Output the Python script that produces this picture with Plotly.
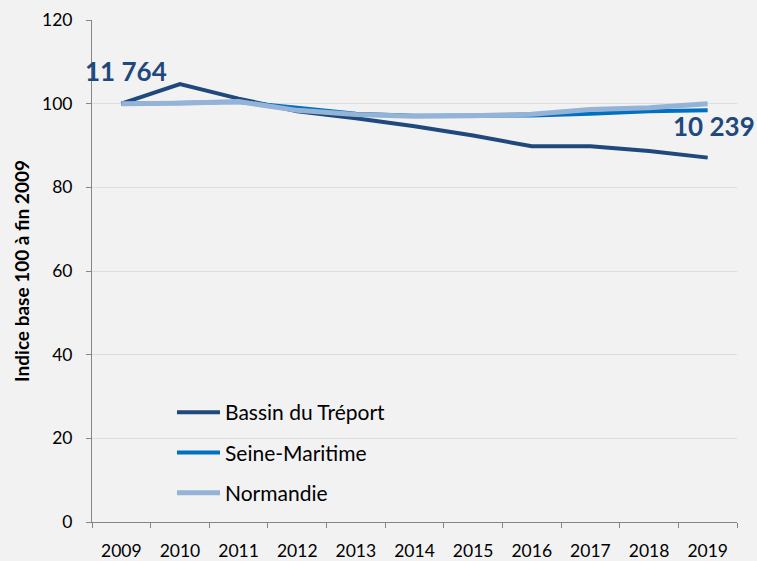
import plotly.graph_objects as go

years = ["2009", "2010", "2011", "2012", "2013", "2014", "2015", "2016", "2017", "2018", "2019"]
bassin = [100, 104.7, 101.2, 98.2, 96.5, 94.6, 92.4, 89.8, 89.8, 88.7, 87.1]
seine = [100, 100.1, 100.4, 99.0, 97.6, 97.1, 97.1, 97.2, 97.6, 98.2, 98.4]
normandie = [100, 100.1, 100.5, 98.4, 97.4, 97.0, 97.1, 97.5, 98.6, 99.0, 100.0]
names = ["Bassin du Tréport", "Seine-Maritime", "Normandie"]
colors = ["#1f497d", "#0070c0", "#95b3d7"]
widths = [4, 4, 5]
start_label = "11 764"
end_label = "10 239"

FONT = "Lato"

fig = go.Figure()
for name, vals, c, w in zip(names, [bassin, seine, normandie], colors, widths):
    fig.add_trace(go.Scatter(x=years, y=vals, mode="lines", name=name, legendgroup=name,
                             line=dict(color=c, width=w)))

fig.add_annotation(x=0, y=bassin[0], text=f"<b>{start_label}</b>", showarrow=False,
                   xshift=5, yshift=33, font=dict(family=FONT, size=26, color="#1f497d"))
fig.add_annotation(x=len(years) - 1, y=seine[-1], text=f"<b>{end_label}</b>", showarrow=False,
                   xshift=6, yshift=-16, font=dict(family=FONT, size=26, color="#1f497d"))

fig.update_layout(
    width=757, height=561,
    paper_bgcolor="#f2f2f2", plot_bgcolor="#f2f2f2",
    margin=dict(l=92, r=20, t=20, b=39),
    font=dict(family=FONT, size=17, color="#000000"),
    showlegend=True,
    legend=dict(x=0.124, y=0.259, xanchor="left", yanchor="top",
                bgcolor="rgba(0,0,0,0)", font=dict(size=21, family=FONT),
                itemwidth=43, tracegroupgap=10),
    xaxis=dict(type="category", tickson="boundaries", ticks="outside", ticklen=5,
               tickcolor="#868686", showline=True, linecolor="#868686", linewidth=1,
               showgrid=False, tickfont=dict(size=17.5), range=[-0.5, 10.5],
               ticklabelstandoff=13, automargin=False),
    yaxis=dict(range=[0, 120], dtick=20, ticks="outside", ticklen=5, tickcolor="#868686",
               showline=True, linecolor="#868686", linewidth=1,
               showgrid=True, gridcolor="#dedede", gridwidth=1, zeroline=False,
               tickfont=dict(size=17.5), ticklabelstandoff=10, automargin=False,
               title=dict(text="<b>Indice base 100 à fin 2009</b>", font=dict(size=19), standoff=7)),
)

fig.write_html("out.html", config={"displayModeBar": False},
               post_script="document.body.style.margin='0';")
